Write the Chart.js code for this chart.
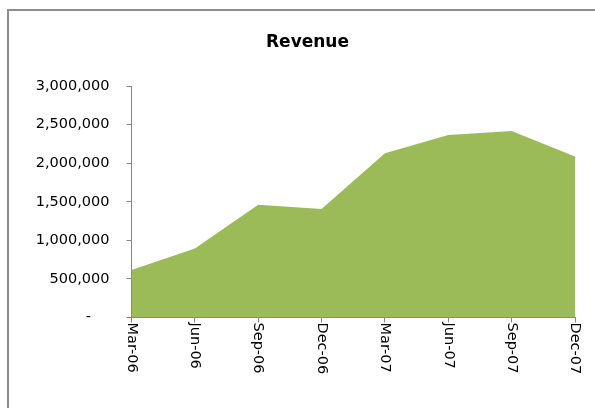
<!DOCTYPE html>
<html>
<head>
<meta charset="utf-8">
<script src="https://cdn.jsdelivr.net/npm/chart.js@4/dist/chart.umd.min.js"></script>
<style>
html,body{margin:0;padding:0;background:#fff;}
#wrap{position:relative;width:595px;height:408px;}
</style>
</head>
<body>
<div id="wrap"><canvas id="c" width="595" height="408"></canvas></div>
<script>
const categories = ["Mar-06","Jun-06","Sep-06","Dec-06","Mar-07","Jun-07","Sep-07","Dec-07"];
const revenue = [617000, 894000, 1461000, 1405000, 2127000, 2366000, 2418000, 2088000];
const yTicks = [0, 500000, 1000000, 1500000, 2000000, 2500000, 3000000];

const FONT = "'DejaVu Sans', sans-serif";
const AXIS = "#868686";

const framePlugin = {
  id: 'frame',
  beforeDraw(chart) {
    const ctx = chart.ctx;
    ctx.save();
    ctx.strokeStyle = '#8c8c8c';
    ctx.lineWidth = 2;
    ctx.strokeRect(8, 10, 600, 420);
    ctx.restore();
  }
};

const xLabelPlugin = {
  id: 'xlabels',
  afterDraw(chart) {
    const sc = chart.scales.x;
    const ctx = chart.ctx;
    ctx.save();
    ctx.fillStyle = '#000';
    ctx.font = "14.5px " + FONT;
    ctx.textAlign = 'left';
    ctx.textBaseline = 'middle';
    categories.forEach((lab, i) => {
      const x = sc.getPixelForTick(i);
      ctx.save();
      ctx.translate(x, sc.top + 5);
      ctx.rotate(Math.PI / 2);
      ctx.fillText(lab, 0, 0);
      ctx.restore();
    });
    ctx.restore();
  }
};

new Chart(document.getElementById('c'), {
  type: 'line',
  data: {
    labels: categories,
    datasets: [{
      label: 'Revenue',
      data: revenue,
      fill: 'origin',
      backgroundColor: '#9BBB59',
      borderColor: '#9BBB59',
      borderWidth: 0,
      pointRadius: 0,
      tension: 0
    }]
  },
  options: {
    responsive: false,
    animation: false,
    layout: { padding: { left: 20, right: 0, top: 0, bottom: 0 } },
    plugins: {
      legend: { display: false },
      tooltip: { enabled: false },
      title: {
        display: true,
        text: 'Revenue',
        color: '#000',
        font: { family: FONT, size: 17, weight: 'bold' },
        padding: { top: 32, bottom: 33.6 }
      }
    },
    scales: {
      x: {
        offset: false,
        border: { color: AXIS, width: 1 },
        grid: { display: true, drawOnChartArea: false, drawTicks: true, tickLength: 5, color: AXIS },
        ticks: { display: false },
        afterFit(s) { s.height = 90.5; }
      },
      y: {
        min: 0, max: 3000000,
        border: { color: AXIS, width: 1 },
        grid: { display: true, drawOnChartArea: false, drawTicks: true, tickLength: 5, color: AXIS },
        afterBuildTicks(s) { s.ticks = yTicks.map(v => ({ value: v })); },
        ticks: {
          color: '#000',
          padding: 17,
          font: { family: FONT, size: 14.5 },
          callback(v) { return v === 0 ? '-    ' : v.toLocaleString('en-US'); }
        },
        afterFit(s) { s.width = 111.5; }
      },
      spacer: {
        type: 'linear',
        position: 'right',
        display: true,
        border: { display: false },
        grid: { display: false },
        ticks: { display: false },
        afterFit(s) { s.width = 20; }
      }
    }
  },
  plugins: [framePlugin, xLabelPlugin]
});
</script>
</body>
</html>
